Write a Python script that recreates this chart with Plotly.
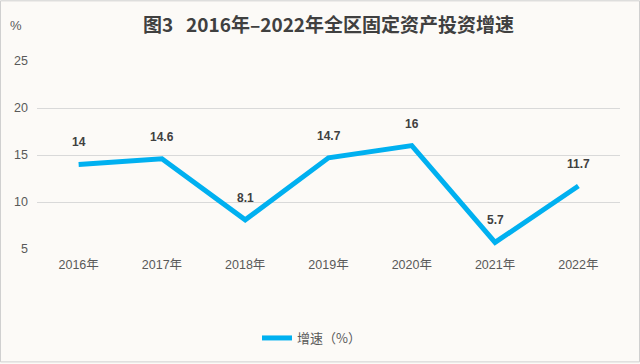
import plotly.graph_objects as go

years = ["2016年", "2017年", "2018年", "2019年", "2020年", "2021年", "2022年"]
growth = [14, 14.6, 8.1, 14.7, 16, 5.7, 11.7]
series_name = "增速（%）"
title_text = "图3&nbsp;&nbsp;&nbsp;2016年–2022年全区固定资产投资增速"

W, H = 640, 364
ml, mr, mt, mb = 37, 20, 61, 114
pw, ph = W - ml - mr, H - mt - mb

fig = go.Figure()
fig.add_trace(go.Scatter(
    x=years, y=growth, mode="lines", name=series_name,
    line=dict(color="#00B0F0", width=5),
))

for x, y in zip(years, growth):
    fig.add_annotation(x=x, y=y, text=f"<b>{y:g}</b>", showarrow=False,
                       yshift=22, font=dict(size=12, color="#404040",
                                            family="Liberation Sans, Arial"))

fig.add_annotation(xref="paper", yref="paper", x=-(ml - 8) / pw, y=1 + (mt - 25) / ph,
                   xanchor="left", yanchor="middle", text="%", showarrow=False,
                   font=dict(size=13, color="#595959", family="Liberation Sans, Arial"))

fig.add_shape(type="rect", xref="paper", yref="paper",
              x0=-(ml - 0.5) / pw, x1=1 + (mr - 0.5) / pw,
              y0=-(mb - 0.5) / ph, y1=1 + (mt - 0.5) / ph,
              line=dict(color="#d0d0d0", width=1), layer="below")

fig.update_layout(
    width=W, height=H,
    margin=dict(l=ml, r=mr, t=mt, b=mb),
    paper_bgcolor="#fcfaf7", plot_bgcolor="#fcfaf7",
    title=dict(text=f"<b>{title_text}</b>", x=0.5, xref="paper", y=1 - 25 / H,
               yanchor="middle",
               font=dict(size=19, color="#404040", family="Noto Sans CJK SC")),
    showlegend=True,
    legend=dict(orientation="h", x=(257 - ml) / pw, xanchor="left",
                y=-(338 - 250) / ph, yanchor="middle",
                font=dict(size=13, color="#595959", family="Noto Sans CJK SC")),
    font=dict(family="Liberation Sans, Noto Sans CJK SC", color="#595959", size=12),
)
fig.update_xaxes(range=[-0.5, len(years) - 0.5], showgrid=False, showline=False,
                 zeroline=False,
                 tickfont=dict(size=12.5, color="#595959",
                               family="Liberation Sans, Noto Sans CJK SC"),
                 ticklabelstandoff=6)
fig.update_yaxes(range=[5, 25], dtick=5, showgrid=True, gridcolor="#d9d9d9",
                 gridwidth=1, zeroline=False, showline=False,
                 tickfont=dict(size=12.5, color="#595959"), ticklabelstandoff=8)

fig.write_html("out.html", config={"displayModeBar": False},
               post_script="document.body.style.margin='0';")
